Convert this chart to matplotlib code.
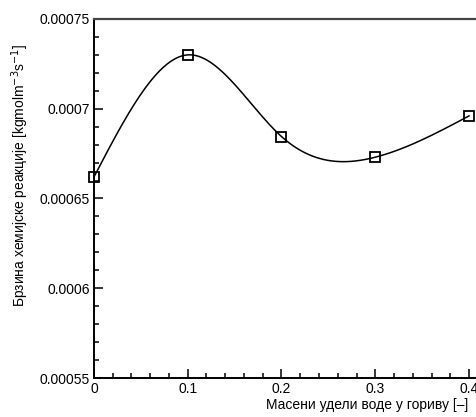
import numpy as np
import matplotlib
matplotlib.use("Agg")
import matplotlib.pyplot as plt
from matplotlib.ticker import MultipleLocator, FixedLocator

plt.rcParams['font.family'] = ['Liberation Sans', 'DejaVu Sans']

# Подаци очитани са графика
udeo_vode = [0.0, 0.1, 0.2, 0.3, 0.4]
brzina = [0.000662, 0.000730, 0.0006845, 0.000673, 0.000696]
y_ticks = [0.00055, 0.0006, 0.00065, 0.0007, 0.00075]
y_tick_labels = ["0.00055", "0.0006", "0.00065", "0.0007", "0.00075"]
x_ticks = [0.0, 0.1, 0.2, 0.3, 0.4]
x_tick_labels = ["0", "0.1", "0.2", "0.3", "0.4"]


def natural_spline(x, y, n=300):
    """Природни кубни сплајн кроз тачке (само за глатку линију)."""
    x = np.asarray(x, float)
    y = np.asarray(y, float)
    k = len(x)
    h = np.diff(x)
    A = np.zeros((k, k))
    b = np.zeros(k)
    A[0, 0] = A[-1, -1] = 1.0
    for i in range(1, k - 1):
        A[i, i - 1] = h[i - 1]
        A[i, i] = 2 * (h[i - 1] + h[i])
        A[i, i + 1] = h[i]
        b[i] = 6 * ((y[i + 1] - y[i]) / h[i] - (y[i] - y[i - 1]) / h[i - 1])
    M = np.linalg.solve(A, b)
    xs = np.linspace(x[0], x[-1], n)
    idx = np.clip(np.searchsorted(x, xs) - 1, 0, k - 2)
    x0, x1 = x[idx], x[idx + 1]
    hh = x1 - x0
    t0 = x1 - xs
    t1 = xs - x0
    ys = (M[idx] * t0 ** 3 / (6 * hh) + M[idx + 1] * t1 ** 3 / (6 * hh)
          + (y[idx] / hh - M[idx] * hh / 6) * t0
          + (y[idx + 1] / hh - M[idx + 1] * hh / 6) * t1)
    return xs, ys


fig = plt.figure(figsize=(4.77, 4.17), dpi=100)
ax = fig.add_axes([0.197, 0.0935, 0.803, 0.861])

xs, ys = natural_spline(udeo_vode, brzina)
ax.plot(xs, ys, color="black", lw=1.1, zorder=2)
ax.plot(udeo_vode, brzina, ls="none", marker="s", ms=7.5, mfc="none",
        mec="black", mew=1.3, zorder=3, clip_on=False)

ax.set_xlim(0, 0.4085)
ax.set_ylim(0.00055, 0.00075)

ax.yaxis.set_major_locator(FixedLocator(y_ticks))
ax.set_yticklabels(y_tick_labels)
ax.yaxis.set_minor_locator(MultipleLocator(0.00001))
ax.xaxis.set_major_locator(FixedLocator(x_ticks))
ax.set_xticklabels(x_tick_labels)
ax.xaxis.set_minor_locator(MultipleLocator(0.02))

ax.tick_params(which="both", direction="in", top=False, right=False,
               labelsize=10, width=1.1, colors="black")
ax.tick_params(which="major", length=6.5, pad=3)
ax.tick_params(which="minor", length=3.5)

ax.spines["right"].set_visible(False)
for s in ["left", "bottom"]:
    ax.spines[s].set_linewidth(1.4)
ax.spines["top"].set_linewidth(1.6)
ax.spines["top"].set_color("#444444")

ax.set_ylabel("Брзина хемијске реакције [kgmolm$^{-3}$s$^{-1}$]", fontsize=10)
ax.yaxis.set_label_coords(-0.165, 0.565)
ax.set_xlabel("Масени удели воде у гориву [–]", fontsize=10, ha="right")
ax.xaxis.set_label_coords(0.9765, -0.055)

fig.savefig("out.png", dpi=100)
